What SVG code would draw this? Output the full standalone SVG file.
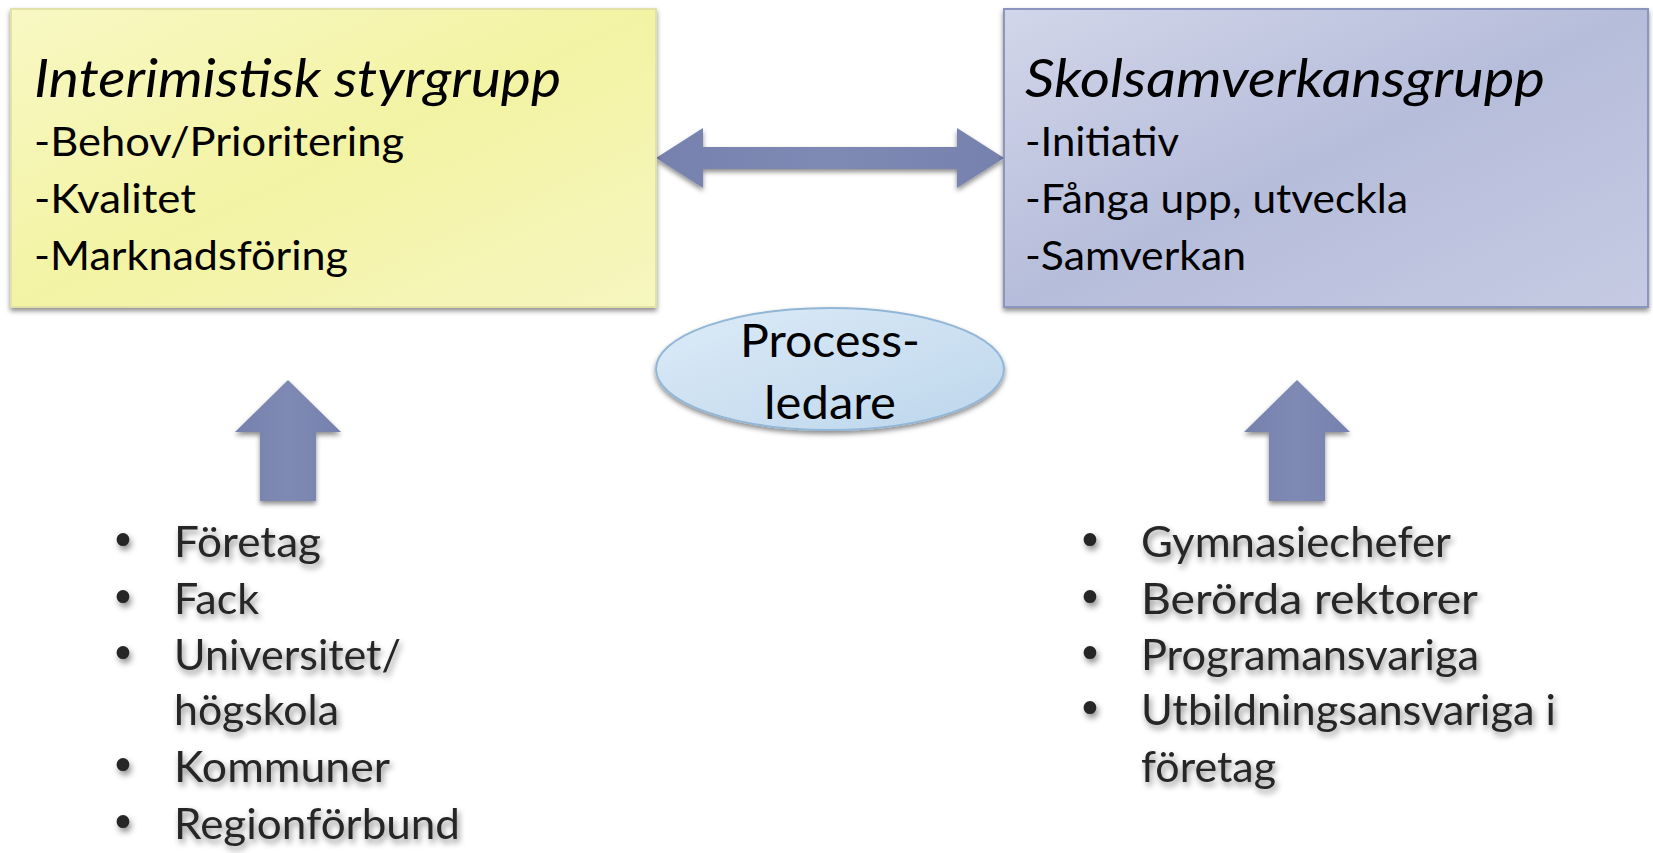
<svg xmlns="http://www.w3.org/2000/svg" width="1653" height="853" viewBox="0 0 1653 853">
<defs>
<linearGradient id="gy" x1="0" y1="0" x2="1" y2="1">
<stop offset="0" stop-color="#f8f8c4"/><stop offset="0.5" stop-color="#f3f3a4"/><stop offset="1" stop-color="#f6f6c0"/>
</linearGradient>
<linearGradient id="gb" x1="0" y1="0" x2="1" y2="1">
<stop offset="0" stop-color="#d2d6ea"/><stop offset="0.5" stop-color="#b6bdda"/><stop offset="1" stop-color="#c6cbe3"/>
</linearGradient>
<linearGradient id="ge" x1="0" y1="0" x2="1" y2="1">
<stop offset="0" stop-color="#dcebf7"/><stop offset="1" stop-color="#bdd6ec"/>
</linearGradient>
<linearGradient id="ga" x1="0" y1="0" x2="1" y2="0">
<stop offset="0" stop-color="#7682ad"/><stop offset="0.5" stop-color="#7e8ab4"/><stop offset="1" stop-color="#7682ad"/>
</linearGradient>
<filter id="sh" x="-10%" y="-10%" width="120%" height="130%">
<feDropShadow dx="0" dy="3" stdDeviation="2.5" flood-color="#000" flood-opacity="0.45"/>
</filter>
<filter id="tsh" x="-10%" y="-30%" width="120%" height="160%">
<feDropShadow dx="2" dy="4" stdDeviation="3" flood-color="#000" flood-opacity="0.45"/>
</filter>
</defs>
<style>
.t{font-family:Lato,"Open Sans","DejaVu Sans",sans-serif;fill:#000}
.ti{font-style:italic;font-size:53px}
.it{font-size:41px}
.bl{font-family:Lato,"Open Sans","DejaVu Sans",sans-serif;font-size:43px;fill:#262626}
.bu{font-family:"DejaVu Sans",sans-serif;font-size:44px;fill:#262626}
.arr{fill:url(#ga);filter:url(#sh)}
</style>
<rect width="1653" height="853" fill="#fff"/>
<g id="connectors">
<path class="arr" d="M656,158 L703,128 L703,147 L957,147 L957,128 L1004,158 L957,188 L957,169 L703,169 L703,188 Z"/>
<path class="arr" d="M288,380 L341,432 L316,432 L316,501 L260,501 L260,432 L235,432 Z"/>
<path class="arr" d="M1297,380 L1350,432 L1325,432 L1325,501 L1269,501 L1269,432 L1244,432 Z"/>
</g>
<g id="node-styrgrupp">
<rect x="11" y="9" width="645" height="298" fill="url(#gy)" stroke="#e2e2a8" stroke-width="2" filter="url(#sh)"/>
<text class="t ti" x="34" y="97" textLength="527" lengthAdjust="spacingAndGlyphs">Interimistisk styrgrupp</text>
<text class="t it" x="34" y="156" textLength="370" lengthAdjust="spacingAndGlyphs">-Behov/Prioritering</text>
<text class="t it" x="34" y="213" textLength="162" lengthAdjust="spacingAndGlyphs">-Kvalitet</text>
<text class="t it" x="34" y="270" textLength="314" lengthAdjust="spacingAndGlyphs">-Marknadsföring</text>
</g>
<g id="node-skolsamverkansgrupp">
<rect x="1004" y="9" width="644" height="298" fill="url(#gb)" stroke="#8c95bd" stroke-width="2" filter="url(#sh)"/>
<text class="t ti" x="1025" y="97" textLength="520" lengthAdjust="spacingAndGlyphs">Skolsamverkansgrupp</text>
<text class="t it" x="1025" y="156" textLength="154" lengthAdjust="spacingAndGlyphs">-Initiativ</text>
<text class="t it" x="1025" y="213" textLength="383" lengthAdjust="spacingAndGlyphs">-Fånga upp, utveckla</text>
<text class="t it" x="1025" y="270" textLength="221" lengthAdjust="spacingAndGlyphs">-Samverkan</text>
</g>
<g id="node-processledare">
<ellipse cx="830" cy="369" rx="174" ry="61" fill="url(#ge)" stroke="#92b6d6" stroke-width="2" filter="url(#sh)"/>
<text class="t" font-size="47" text-anchor="middle" x="830" y="357" textLength="180" lengthAdjust="spacingAndGlyphs">Process-</text>
<text class="t" font-size="47" text-anchor="middle" x="830" y="419" textLength="132" lengthAdjust="spacingAndGlyphs">ledare</text>
</g>
<g id="list-left" filter="url(#tsh)">
<text class="bu" x="110" y="556">•</text><text class="bl" x="174" y="557" textLength="147" lengthAdjust="spacingAndGlyphs">Företag</text>
<text class="bu" x="110" y="613">•</text><text class="bl" x="174" y="614" textLength="85" lengthAdjust="spacingAndGlyphs">Fack</text>
<text class="bu" x="110" y="669">•</text><text class="bl" x="174" y="670" textLength="227" lengthAdjust="spacingAndGlyphs">Universitet/</text>
<text class="bl" x="174" y="725" textLength="165" lengthAdjust="spacingAndGlyphs">högskola</text>
<text class="bu" x="110" y="781">•</text><text class="bl" x="174" y="782" textLength="216" lengthAdjust="spacingAndGlyphs">Kommuner</text>
<text class="bu" x="110" y="838">•</text><text class="bl" x="174" y="839" textLength="286" lengthAdjust="spacingAndGlyphs">Regionförbund</text>
</g>
<g id="list-right" filter="url(#tsh)">
<text class="bu" x="1077" y="556">•</text><text class="bl" x="1141" y="557" textLength="310" lengthAdjust="spacingAndGlyphs">Gymnasiechefer</text>
<text class="bu" x="1077" y="613">•</text><text class="bl" x="1141" y="614" textLength="337" lengthAdjust="spacingAndGlyphs">Berörda rektorer</text>
<text class="bu" x="1077" y="669">•</text><text class="bl" x="1141" y="670" textLength="338" lengthAdjust="spacingAndGlyphs">Programansvariga</text>
<text class="bu" x="1077" y="724">•</text><text class="bl" x="1141" y="725" textLength="415" lengthAdjust="spacingAndGlyphs">Utbildningsansvariga i</text>
<text class="bl" x="1141" y="782" textLength="135" lengthAdjust="spacingAndGlyphs">företag</text>
</g>
</svg>
